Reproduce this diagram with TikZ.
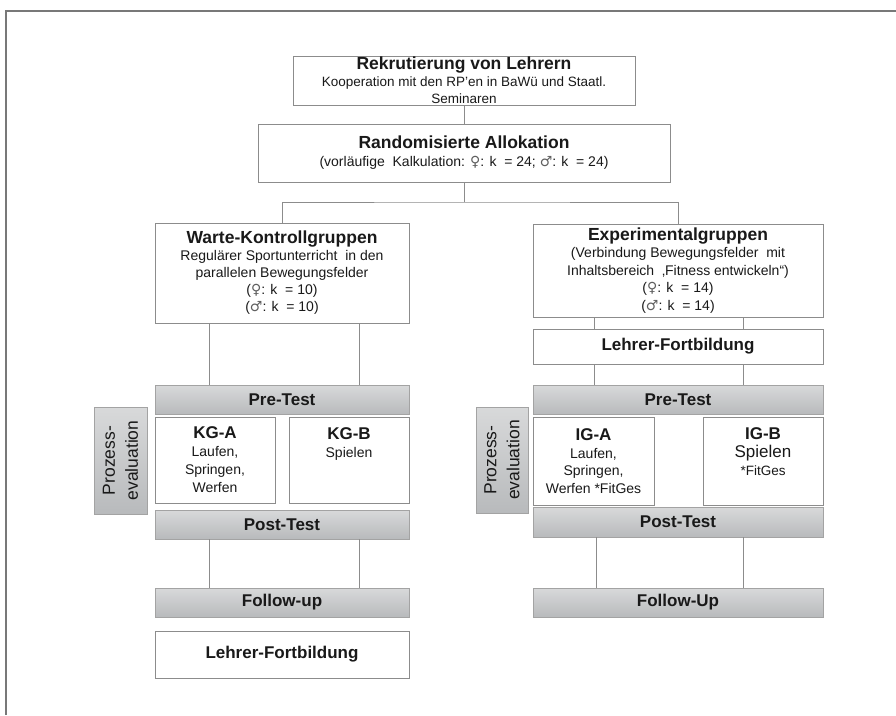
\documentclass[tikz,border=0pt]{standalone}
\usepackage{fontspec}
\setmainfont{Liberation Sans}
\newfontfamily\symfont{DejaVu Sans}
\definecolor{linegray}{RGB}{140,140,140}
\definecolor{framegray}{RGB}{120,120,120}
\definecolor{gtop}{RGB}{216,217,218}
\definecolor{gbot}{RGB}{184,186,188}
\definecolor{txt}{RGB}{25,25,25}
\definecolor{symgray}{RGB}{95,95,95}
\newcommand{\fem}{{\symfont\color{symgray}♀}}
\newcommand{\mal}{{\symfont\color{symgray}♂}}
\begin{document}
\begin{tikzpicture}[x=1pt,y=-1pt,
  wbox/.style={draw=linegray, line width=1pt, fill=white, inner sep=0pt, align=center, text=txt},
  gbox/.style={draw=linegray!80, line width=0.8pt, top color=gtop, bottom color=gbot, inner sep=0pt, align=center, text=txt, font=\bfseries\fontsize{17}{20}\selectfont},
  conn/.style={draw=linegray, line width=1pt},
  body/.style={font=\fontsize{14}{17}\selectfont},
  ttl/.style={font=\bfseries\fontsize{17}{20}\selectfont}
]
\useasboundingbox (0,0) rectangle (896,715);
\draw[framegray, line width=2pt] (6,715) -- (6,11) -- (896,11);

% top
\node[wbox, minimum width=342pt, minimum height=49pt, font=\fontsize{13.5}{17}\selectfont] (rek) at (464,80.5)
  {{\bfseries\fontsize{17.5}{17}\selectfont Rekrutierung von Lehrern}\\Kooperation mit den RP’en in BaWü und Staatl.\\Seminaren};
\node[wbox, minimum width=412pt, minimum height=58pt, font=\fontsize{14}{18}\selectfont] (rand) at (464,153)
  {{\bfseries\fontsize{17.5}{18}\selectfont Randomisierte Allokation}\\(vorläufige~ Kalkulation: \fem: k~~= 24; \mal: k~~= 24)};

% groups
\node[wbox, minimum width=254pt, minimum height=100pt, body] (warte) at (282,273)
  {{\bfseries\fontsize{17.5}{17}\selectfont Warte-Kontrollgruppen}\\Regulärer Sportunterricht~ in den\\parallelen Bewegungsfelder\\(\fem: k~~= 10)\\(\mal: k~~= 10)};
\node[wbox, minimum width=290pt, minimum height=93pt, font=\fontsize{14}{17.5}\selectfont] (exp) at (678,270.5)
  {{\bfseries\fontsize{17.5}{17.5}\selectfont Experimentalgruppen}\\(Verbindung Bewegungsfelder~ mit\\Inhaltsbereich~ ‚Fitness entwickeln“)\\(\fem: k~~= 14)\\(\mal: k~~= 14)};

\coordinate (split) at (464,202);
\draw[conn] (rand.south) -- (split);
\draw[conn] (warte.north) |- (split) -| (exp.north);
\draw[conn] (rek.south) -- (rand.north);

% right Lehrer-Fortbildung
\node[wbox, minimum width=290pt, minimum height=35pt, ttl] (lfR) at (678,346.5) {Lehrer-Fortbildung};

% left column
\node[gbox, minimum width=254pt, minimum height=29pt] (preL) at (282,399.5) {Pre-Test};
\node[wbox, minimum width=120pt, minimum height=86pt, font=\fontsize{14}{18}\selectfont] (kga) at (215,460)
  {{\bfseries\fontsize{17}{18}\selectfont KG-A}\\Laufen,\\Springen,\\Werfen};
\node[wbox, minimum width=120pt, minimum height=86pt] (kgb) at (349,460) {};
\node[anchor=north, inner sep=0pt, align=center, text=txt, font=\fontsize{14}{18}\selectfont] (kgbt) at (349,427)
  {{\bfseries\fontsize{17}{18}\selectfont KG-B}\\Spielen};
\node[gbox, minimum width=254pt, minimum height=29pt] (postL) at (282,524.5) {Post-Test};
\node[gbox, rotate=90, minimum width=107pt, minimum height=53pt, font=\fontsize{17.5}{23}\selectfont] (prozL) at (120.5,460.5) {Prozess-\\evaluation};
\node[gbox, minimum width=254pt, minimum height=29pt] (followL) at (282,602.5) {Follow-up};
\node[wbox, minimum width=254pt, minimum height=47pt, ttl] (lfL) at (282,654.5) {Lehrer-Fortbildung};

% right column
\node[gbox, minimum width=290pt, minimum height=29pt] (preR) at (678,399.5) {Pre-Test};
\node[wbox, minimum width=121pt, minimum height=88pt, font=\fontsize{14}{17.5}\selectfont] (iga) at (593.5,461)
  {{\bfseries\fontsize{17}{17.5}\selectfont IG-A}\\Laufen,\\Springen,\\Werfen *FitGes};
\node[wbox, minimum width=120pt, minimum height=88pt] (igb) at (763,461) {};
\node[anchor=north, inner sep=0pt, align=center, text=txt, font=\fontsize{13.5}{18}\selectfont] (igbt) at (763,427)
  {{\bfseries\fontsize{17}{18}\selectfont IG-B}\\{\fontsize{17}{18}\selectfont Spielen}\\*FitGes};
\node[gbox, minimum width=290pt, minimum height=30pt] (postR) at (678,522) {Post-Test};
\node[gbox, rotate=90, minimum width=106pt, minimum height=52pt, font=\fontsize{17.5}{23}\selectfont] (prozR) at (502,460) {Prozess-\\evaluation};
\node[gbox, minimum width=290pt, minimum height=29pt] (followR) at (678,602.5) {Follow-Up};

% connectors
\foreach \dx in {-73,77} {
  \draw[conn] ([xshift=\dx pt]warte.south) -- ([xshift=\dx pt]preL.north);
  \draw[conn] ([xshift=\dx pt]postL.south) -- ([xshift=\dx pt]followL.north);
}
\foreach \dx in {-84,65} {
  \draw[conn] ([xshift=\dx pt]exp.south) -- ([xshift=\dx pt]lfR.north);
  \draw[conn] ([xshift=\dx pt]lfR.south) -- ([xshift=\dx pt]preR.north);
}
\foreach \dx in {-82,65} {
  \draw[conn] ([xshift=\dx pt]postR.south) -- ([xshift=\dx pt]followR.north);
}
\end{tikzpicture}
\end{document}
